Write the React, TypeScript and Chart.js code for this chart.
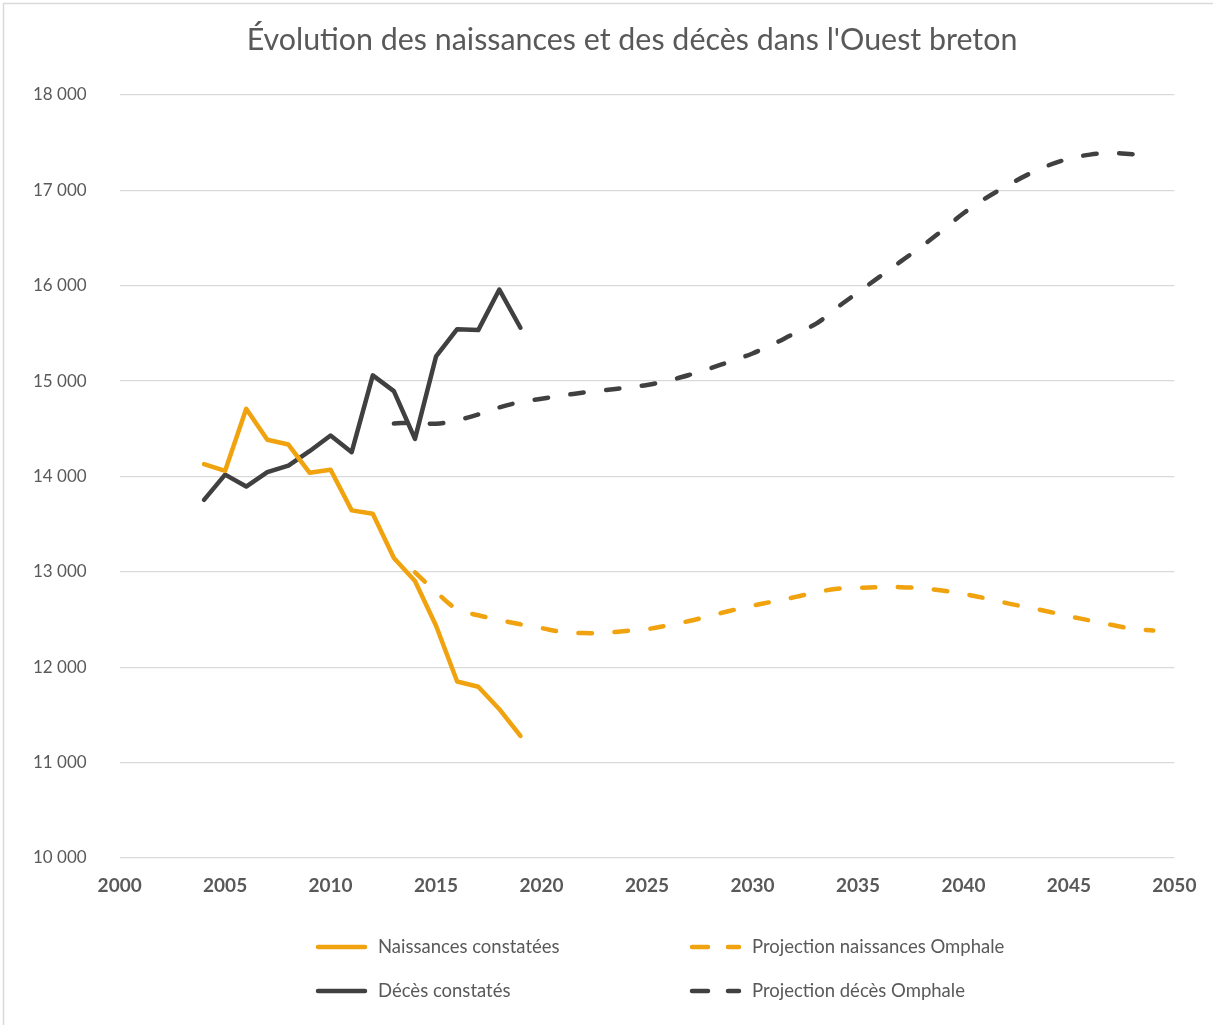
import React, { useEffect, useRef } from "react";
import { Chart, registerables } from "chart.js";

Chart.register(...registerables);

const TITLE = "Évolution des naissances et des décès dans l'Ouest breton";

const observedYears = [2004, 2005, 2006, 2007, 2008, 2009, 2010, 2011, 2012, 2013, 2014, 2015, 2016, 2017, 2018, 2019];
const naissancesConstatees = [14130, 14060, 14710, 14385, 14335, 14040, 14070, 13645, 13610, 13145, 12905, 12435, 11850, 11795, 11560, 11280];
const decesConstates = [13755, 14020, 13895, 14045, 14115, 14265, 14430, 14255, 15060, 14895, 14395, 15260, 15545, 15535, 15960, 15560];

const projNaissYears = [2014, 2015, 2016, 2017, 2018, 2019, 2020, 2021, 2022, 2023, 2024, 2025, 2026, 2027, 2028, 2029, 2030, 2031, 2032, 2033, 2034, 2035, 2036, 2037, 2038, 2039, 2040, 2041, 2042, 2043, 2044, 2045, 2046, 2047, 2048, 2049];
const projNaissances = [12995, 12790, 12610, 12545, 12495, 12450, 12410, 12370, 12358, 12362, 12380, 12400, 12440, 12485, 12540, 12595, 12645, 12690, 12735, 12785, 12822, 12833, 12840, 12840, 12828, 12805, 12770, 12725, 12675, 12630, 12585, 12535, 12490, 12445, 12405, 12385];

const projDecesYears = [2013, 2014, 2015, 2016, 2017, 2018, 2019, 2020, 2021, 2022, 2023, 2024, 2025, 2026, 2027, 2028, 2029, 2030, 2031, 2032, 2033, 2034, 2035, 2036, 2037, 2038, 2039, 2040, 2041, 2042, 2043, 2044, 2045, 2046, 2047, 2048, 2049];
const projDeces = [14555, 14565, 14553, 14590, 14650, 14725, 14780, 14815, 14850, 14880, 14905, 14930, 14960, 15005, 15065, 15135, 15210, 15290, 15390, 15500, 15600, 15770, 15930, 16090, 16250, 16410, 16580, 16760, 16910, 17040, 17160, 17260, 17330, 17375, 17390, 17380, 17365];

const seriesLabels = ["Naissances constatées", "Décès constatés", "Projection naissances Omphale", "Projection décès Omphale"];

const ORANGE = "#F0A30F";
const DARK = "#404040";
const TEXT = "#595959";
const GRID = "#d9d9d9";
const FONT = "Lato, 'Open Sans', sans-serif";
const DASH = [13.5, 22.5];

const toPoints = (xs: number[], ys: number[]) => xs.map((x, i) => ({ x, y: ys[i] }));
const fmt = (v: number) => String(Math.round(v)).replace(/\B(?=(\d{3})+(?!\d))/g, " ");

const decorPlugin = {
  id: "decor",
  afterDraw(chart: any) {
    const ctx = chart.ctx as CanvasRenderingContext2D;
    ctx.save();
    // frame (top + left)
    ctx.strokeStyle = GRID;
    ctx.lineWidth = 1.5;
    ctx.beginPath();
    ctx.moveTo(3.5, chart.height);
    ctx.lineTo(3.5, 3.5);
    ctx.lineTo(chart.width, 3.5);
    ctx.stroke();

    // title
    ctx.fillStyle = TEXT;
    ctx.font = `30.4px ${FONT}`;
    ctx.textAlign = "center";
    ctx.textBaseline = "middle";
    ctx.fillText(TITLE, 632, 40);

    // legend (2 columns x 2 rows)
    const items = [
      { label: seriesLabels[0], color: ORANGE, dash: false, x: 316, y: 947 },
      { label: seriesLabels[2], color: ORANGE, dash: true, x: 690, y: 947 },
      { label: seriesLabels[1], color: DARK, dash: false, x: 316, y: 991 },
      { label: seriesLabels[3], color: DARK, dash: true, x: 690, y: 991 },
    ];
    ctx.font = `18.5px ${FONT}`;
    ctx.textBaseline = "middle";
    ctx.textAlign = "left";
    for (const it of items) {
      ctx.strokeStyle = it.color;
      ctx.lineWidth = 4.5;
      ctx.lineCap = "round";
      ctx.setLineDash(it.dash ? [16, 20] : []);
      ctx.beginPath();
      ctx.moveTo(it.x + 2, it.y);
      ctx.lineTo(it.x + 49, it.y);
      ctx.stroke();
      ctx.setLineDash([]);
      ctx.fillStyle = TEXT;
      ctx.fillText(it.label, it.x + 62, it.y);
    }
    ctx.restore();
  },
};

export default function App() {
  const ref = useRef<HTMLCanvasElement | null>(null);

  useEffect(() => {
    document.body.style.margin = "0";
    if (!ref.current) return;
    const chart = new Chart(ref.current, {
      type: "line",
      data: {
        datasets: [
          {
            label: seriesLabels[0],
            data: toPoints(observedYears, naissancesConstatees),
            borderColor: ORANGE,
            borderWidth: 4.5,
            pointRadius: 0,
            tension: 0,
            borderJoinStyle: "round",
            borderCapStyle: "round",
          },
          {
            label: seriesLabels[1],
            data: toPoints(observedYears, decesConstates),
            borderColor: DARK,
            borderWidth: 4.5,
            pointRadius: 0,
            tension: 0,
            borderJoinStyle: "round",
            borderCapStyle: "round",
          },
          {
            label: seriesLabels[2],
            data: toPoints(projNaissYears, projNaissances),
            borderColor: ORANGE,
            borderWidth: 4.5,
            borderDash: DASH,
            pointRadius: 0,
            tension: 0.4,
            borderCapStyle: "round",
          },
          {
            label: seriesLabels[3],
            data: toPoints(projDecesYears, projDeces),
            borderColor: DARK,
            borderWidth: 4.5,
            borderDash: DASH,
            pointRadius: 0,
            tension: 0.4,
            borderCapStyle: "round",
          },
        ],
      },
      options: {
        responsive: false,
        animation: false,
        layout: { padding: { top: 95, left: 0, right: 35, bottom: 111 } },
        plugins: {
          legend: { display: false },
          tooltip: { enabled: false },
          title: { display: false },
        },
        scales: {
          x: {
            type: "linear",
            min: 2000,
            max: 2050,
            grid: { display: false, drawTicks: false },
            border: { display: false },
            ticks: {
              stepSize: 5,
              color: TEXT,
              padding: 16.6,
              maxRotation: 0,
              font: { family: FONT, size: 19, weight: "bold" },
              callback: (v: any) => String(v),
            },
          },
          y: {
            min: 10000,
            max: 18000,
            grid: { color: GRID, lineWidth: 1.3, drawTicks: false },
            border: { display: false },
            ticks: {
              stepSize: 1000,
              color: TEXT,
              padding: 33,
              font: { family: FONT, size: 17 },
              callback: (v: any) => fmt(Number(v)),
            },
          },
        },
      },
      plugins: [decorPlugin],
    });
    return () => chart.destroy();
  }, []);

  return (
    <div style={{ width: 1213, height: 1025, background: "#fff" }}>
      <canvas ref={ref} width={1213} height={1025} style={{ display: "block" }} />
    </div>
  );
}
